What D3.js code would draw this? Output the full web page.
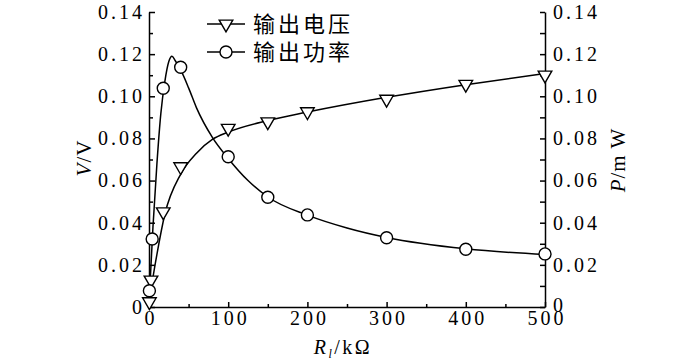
<!DOCTYPE html>
<html>
<head>
<meta charset="utf-8">
<script src="https://cdn.jsdelivr.net/npm/d3@7"></script>
<style>
    body { margin: 0; background: #fff; }
    svg { display: block; }
    .axis path, .axis line { stroke: #000; stroke-width: 1.5; }
    .axis .tick text { font-family: 'Liberation Serif', 'Times New Roman', serif; font-size: 20px; letter-spacing: 3px; fill: #000; }
    .title { font-family: 'Liberation Serif', 'Times New Roman', serif; font-size: 21px; fill: #000; }
    .legend text { font-family: 'Noto Sans CJK SC', sans-serif; font-size: 22px; letter-spacing: 3px; fill: #000; }
</style>
</head>
<body>
<div id="chart"></div>
<script>
// measured points
const voltR = [0.5, 2.5, 18, 40, 100, 150, 200, 300, 400, 500]
const voltV = [0.0025, 0.0128, 0.0452, 0.0666, 0.0848, 0.0879, 0.0927, 0.0986, 0.1057, 0.1101]
const powerR = [0.5, 4, 18, 40, 100, 150, 200, 300, 400, 500]
const powerP = [0.0077, 0.0323, 0.1038, 0.1138, 0.0713, 0.0521, 0.0437, 0.0329, 0.0274, 0.0252]

// fitted curves
const voltFitR = [0, 5, 10, 20, 40, 60, 80, 100, 150, 200, 300, 400, 500]
const voltFitV = [0.001, 0.014, 0.025, 0.044, 0.063, 0.073, 0.0795, 0.083, 0.0885, 0.0925, 0.0995, 0.1055, 0.1108]
const powerFitR = [0, 2, 5, 10, 15, 20, 25, 29, 33, 40, 50, 60, 80, 100, 125, 150, 200, 250, 300, 400, 500]
const powerFitP = [0.002, 0.016, 0.038, 0.068, 0.092, 0.107, 0.1165, 0.119, 0.117, 0.1125, 0.104, 0.0945, 0.0805, 0.0705, 0.06, 0.0522, 0.0436, 0.0375, 0.033, 0.0276, 0.0249]

const xTicks = [0, 100, 200, 300, 400, 500]
const xMinor = [50, 150, 250, 350, 450]
const yTicks = [0, 0.02, 0.04, 0.06, 0.08, 0.10, 0.12, 0.14]
const yMinor = [0.01, 0.03, 0.05, 0.07, 0.09, 0.11, 0.13]
const legendNames = ['输出电压', '输出功率']

const width = 700, height = 362
const plot = { left: 149, right: 545, top: 12, bottom: 307 }

const svg = d3.select('#chart').append('svg')
    .attr('width', width)
    .attr('height', height)

const x = d3.scaleLinear().domain([0, 500]).range([plot.left, plot.right])
const y = d3.scaleLinear().domain([0, 0.14]).range([plot.bottom, plot.top])

const fmtY = d => d === 0 ? '0' : d.toFixed(2)

// x axis
svg.append('g').attr('class', 'axis')
    .attr('transform', `translate(0,${plot.bottom})`)
    .call(d3.axisBottom(x).tickValues(xTicks).tickSize(-5).tickPadding(4).tickSizeOuter(0))
    .selectAll('.tick text').attr('dx', 1.5)
svg.append('g').attr('class', 'axis')
    .attr('transform', `translate(0,${plot.bottom})`)
    .call(d3.axisBottom(x).tickValues(xMinor).tickSize(-3).tickFormat('').tickSizeOuter(0))
    .select('.domain').remove()

// left axis
svg.append('g').attr('class', 'axis')
    .attr('transform', `translate(${plot.left},0)`)
    .call(d3.axisLeft(y).tickValues(yTicks).tickSize(-6).tickPadding(4).tickFormat(fmtY).tickSizeOuter(0))
svg.append('g').attr('class', 'axis')
    .attr('transform', `translate(${plot.left},0)`)
    .call(d3.axisLeft(y).tickValues(yMinor).tickSize(-4).tickFormat('').tickSizeOuter(0))
    .select('.domain').remove()

// right axis
svg.append('g').attr('class', 'axis')
    .attr('transform', `translate(${plot.right},0)`)
    .call(d3.axisRight(y).tickValues(yTicks).tickSize(-5).tickPadding(8).tickFormat(fmtY).tickSizeOuter(0))
    .selectAll('.tick text').filter(d => d === 0).attr('dy', '0.2em')
svg.append('g').attr('class', 'axis')
    .attr('transform', `translate(${plot.right},0)`)
    .call(d3.axisRight(y).tickValues(yMinor).tickSize(-5).tickFormat('').tickSizeOuter(0))
    .select('.domain').remove()

// axis titles
svg.append('text').attr('class', 'title')
    .attr('transform', 'translate(91,158) rotate(-90)')
    .attr('text-anchor', 'middle')
    .style('letter-spacing', '1px')
    .html('<tspan font-style="italic">V</tspan>/V')
svg.append('text').attr('class', 'title')
    .attr('transform', 'translate(625,160) rotate(-90)')
    .attr('text-anchor', 'middle')
    .style('letter-spacing', '1px')
    .html('<tspan font-style="italic">P</tspan>/m W')
svg.append('text').attr('class', 'title')
    .attr('x', 343).attr('y', 354)
    .attr('text-anchor', 'middle')
    .style('font-size', '20px')
    .style('letter-spacing', '2.5px')
    .html('<tspan font-style="italic">R</tspan><tspan font-style="italic" font-size="12px" dy="4">l</tspan><tspan dy="-4">/kΩ</tspan>')

// curves
const line = d3.line()
    .x(d => x(d[0]))
    .y(d => y(d[1]))
    .curve(d3.curveMonotoneX)

svg.append('path')
    .attr('d', line(d3.zip(voltFitR, voltFitV)))
    .attr('fill', 'none').attr('stroke', '#000').attr('stroke-width', 1.5)
svg.append('path')
    .attr('d', line(d3.zip(powerFitR, powerFitP)))
    .attr('fill', 'none').attr('stroke', '#000').attr('stroke-width', 1.5)

const tri = d3.symbol().type(d3.symbolTriangle).size(80)

function triangle (sel) {
    sel.append('path')
        .attr('d', tri())
        .attr('transform', 'rotate(180)')
        .attr('fill', '#fff').attr('stroke', '#000').attr('stroke-width', 1.4)
}
function circle (sel) {
    sel.append('circle')
        .attr('r', 6)
        .attr('fill', '#fff').attr('stroke', '#000').attr('stroke-width', 1.4)
}

svg.append('g').selectAll('g')
    .data(d3.zip(voltR, voltV))
    .join('g')
    .attr('transform', d => `translate(${x(d[0])},${y(d[1])})`)
    .call(triangle)

svg.append('g').selectAll('g')
    .data(d3.zip(powerR, powerP))
    .join('g')
    .attr('transform', d => `translate(${x(d[0])},${y(d[1])})`)
    .call(circle)

// legend
const legend = svg.append('g').attr('class', 'legend')
const rows = legend.selectAll('g')
    .data(legendNames)
    .join('g')
    .attr('transform', (d, i) => `translate(207,${24 + i * 28})`)
rows.append('line')
    .attr('x1', 0).attr('x2', 38)
    .attr('stroke', '#000').attr('stroke-width', 1.5)
rows.append('g')
    .attr('transform', 'translate(19,0)')
    .each(function (d, i) { i === 0 ? triangle(d3.select(this)) : circle(d3.select(this)) })
rows.append('text')
    .attr('x', 46).attr('dy', '0.36em')
    .text(d => d)
</script>
</body>
</html>
